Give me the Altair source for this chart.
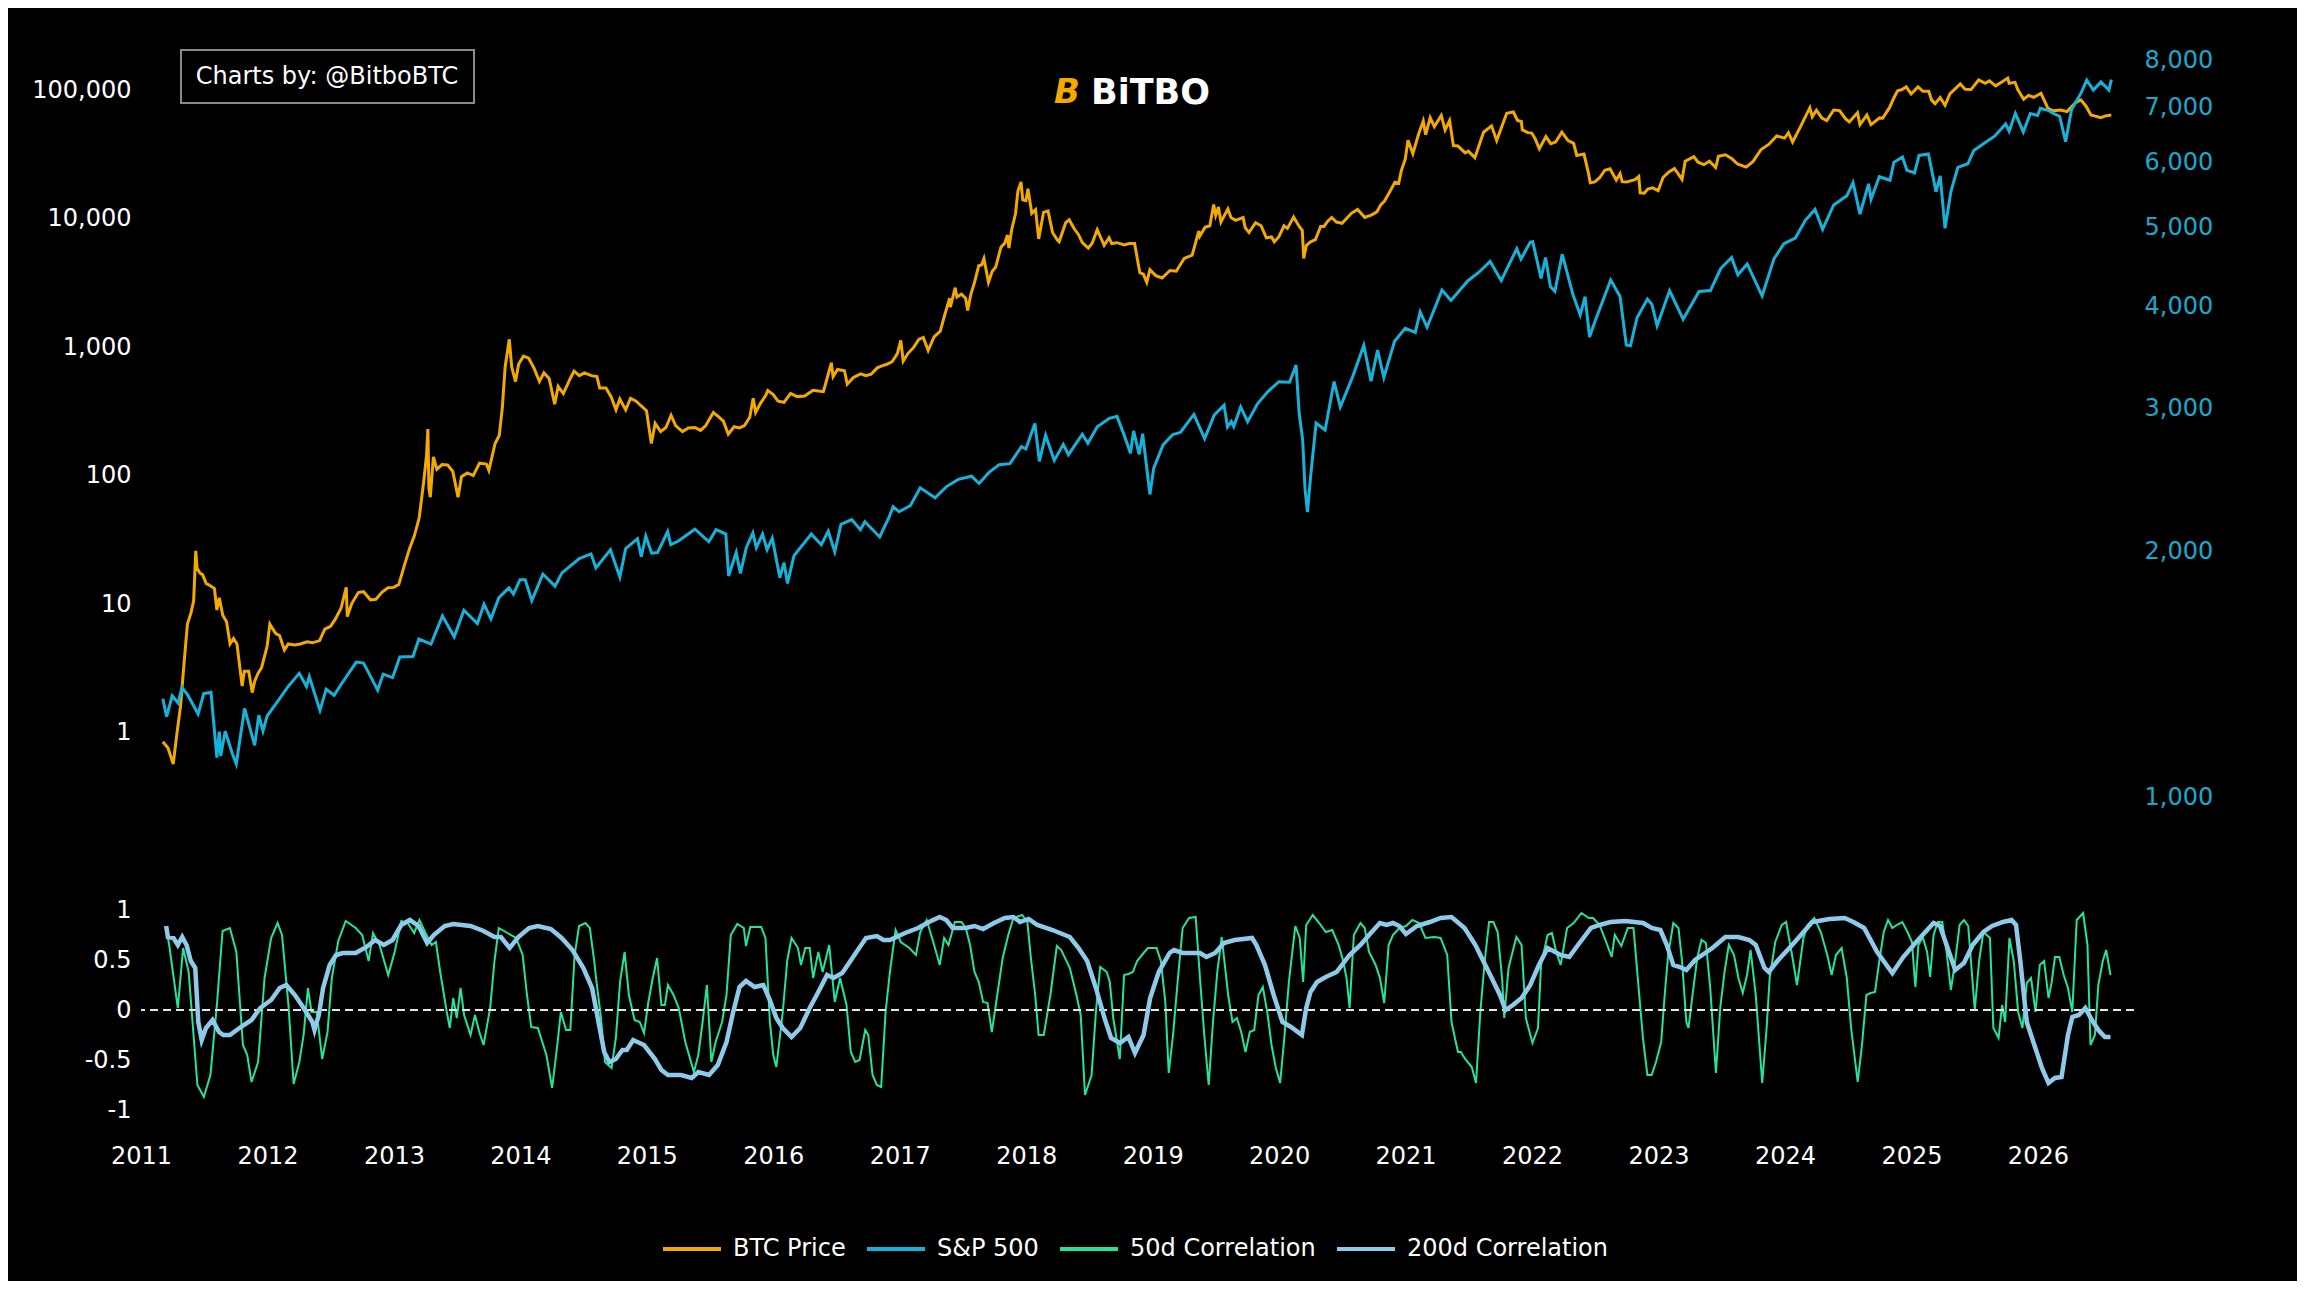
import altair as alt
import pandas as pd

FONT = "DejaVu Sans"
SERIES = ["BTC Price", "S&P 500", "50d Correlation", "200d Correlation"]
COLORS = ["#F2A900", "#16B2D9", "#24E39A", "#8ECBEA"]

btc_dates = [
    "2011-03-05","2011-03-20","2011-04-04","2011-04-15","2011-04-25","2011-05-05","2011-05-15","2011-05-25",
    "2011-06-02","2011-06-08","2011-06-12","2011-06-20","2011-06-28","2011-07-08","2011-07-20","2011-08-01",
    "2011-08-08","2011-08-15","2011-08-25","2011-09-05","2011-09-15","2011-09-25","2011-10-05","2011-10-20",
    "2011-10-26","2011-11-08","2011-11-18","2011-11-25","2011-12-05","2011-12-15","2011-12-31",
    "2012-01-08","2012-01-15","2012-01-25","2012-02-05","2012-02-19","2012-03-01","2012-03-20","2012-04-05",
    "2012-04-25","2012-05-10","2012-05-31","2012-06-15","2012-07-01","2012-07-15","2012-08-01","2012-08-16",
    "2012-08-19","2012-09-01","2012-09-20","2012-10-05","2012-10-25","2012-11-10","2012-11-28","2012-12-15","2012-12-31",
    "2013-01-15","2013-02-01","2013-02-15","2013-03-01","2013-03-15","2013-03-28","2013-04-05","2013-04-09",
    "2013-04-12","2013-04-16","2013-04-25","2013-05-05","2013-05-20","2013-06-05","2013-06-20","2013-07-05",
    "2013-07-15","2013-08-01","2013-08-18","2013-09-05","2013-09-25","2013-10-02","2013-10-20","2013-11-01",
    "2013-11-10","2013-11-18","2013-11-30","2013-12-07","2013-12-18","2013-12-27",
    "2014-01-10","2014-01-25","2014-02-10","2014-02-25","2014-03-10","2014-03-25","2014-04-10","2014-04-20",
    "2014-05-05","2014-05-25","2014-06-05","2014-06-20","2014-07-05","2014-07-25","2014-08-10","2014-08-18",
    "2014-09-05","2014-09-20","2014-10-04","2014-10-15","2014-11-01","2014-11-15","2014-12-01","2014-12-15","2014-12-31",
    "2015-01-14","2015-01-25","2015-02-10","2015-02-25","2015-03-12","2015-03-25","2015-04-14","2015-05-01",
    "2015-05-20","2015-06-05","2015-06-20","2015-07-12","2015-07-25","2015-08-10","2015-08-24","2015-09-10",
    "2015-09-25","2015-10-10","2015-10-25","2015-11-04","2015-11-11","2015-11-25","2015-12-10","2015-12-16","2015-12-31",
    "2016-01-15","2016-02-01","2016-02-20","2016-03-10","2016-04-01","2016-04-25","2016-05-10","2016-05-25",
    "2016-06-05","2016-06-17","2016-06-22","2016-07-05","2016-07-25","2016-08-02","2016-08-20","2016-09-10",
    "2016-09-25","2016-10-10","2016-10-28","2016-11-10","2016-11-25","2016-12-10","2016-12-25",
    "2017-01-04","2017-01-11","2017-01-25","2017-02-10","2017-02-25","2017-03-10","2017-03-24","2017-04-10",
    "2017-04-28","2017-05-10","2017-05-25","2017-05-27","2017-06-10","2017-06-15","2017-06-28","2017-07-10",
    "2017-07-16","2017-07-25","2017-08-05","2017-08-17","2017-08-25","2017-09-01","2017-09-14","2017-09-25",
    "2017-10-05","2017-10-20","2017-10-31","2017-11-08","2017-11-12","2017-11-20","2017-12-01","2017-12-08",
    "2017-12-17","2017-12-22","2017-12-31",
    "2018-01-06","2018-01-17","2018-01-28","2018-02-06","2018-02-20","2018-03-05","2018-03-18","2018-04-01",
    "2018-04-06","2018-04-25","2018-05-05","2018-05-20","2018-06-01","2018-06-12","2018-06-29","2018-07-10",
    "2018-07-25","2018-08-14","2018-08-28","2018-09-05","2018-09-20","2018-10-11","2018-10-25","2018-11-10",
    "2018-11-20","2018-11-25","2018-12-05","2018-12-15","2018-12-24",
    "2019-01-10","2019-01-28","2019-02-20","2019-03-10","2019-04-02","2019-04-25","2019-05-14","2019-05-17",
    "2019-06-01","2019-06-15","2019-06-26","2019-07-02","2019-07-10","2019-07-17","2019-08-06","2019-08-15",
    "2019-08-28","2019-09-19","2019-09-25","2019-10-06","2019-10-25","2019-11-10","2019-11-25","2019-12-10",
    "2019-12-18","2019-12-31",
    "2020-01-15","2020-01-25","2020-02-12","2020-02-28","2020-03-08","2020-03-12","2020-03-20","2020-04-01",
    "2020-04-15","2020-04-30","2020-05-10","2020-05-20","2020-06-01","2020-06-15","2020-07-01","2020-07-28",
    "2020-08-15","2020-09-05","2020-09-25","2020-10-10","2020-10-21","2020-11-01","2020-11-15","2020-12-01",
    "2020-12-12","2020-12-20","2020-12-31",
    "2021-01-08","2021-01-22","2021-02-08","2021-02-21","2021-02-28","2021-03-13","2021-03-25","2021-04-14",
    "2021-04-25","2021-05-08","2021-05-19","2021-06-01","2021-06-22","2021-07-01","2021-07-20","2021-08-14",
    "2021-09-06","2021-09-21","2021-10-05","2021-10-20","2021-11-08","2021-11-20","2021-12-01","2021-12-04",
    "2021-12-20","2021-12-31",
    "2022-01-10","2022-01-22","2022-02-10","2022-02-24","2022-03-10","2022-03-28","2022-04-15","2022-05-01",
    "2022-05-10","2022-05-31","2022-06-13","2022-06-18","2022-07-01","2022-07-15","2022-07-30","2022-08-14",
    "2022-09-01","2022-09-12","2022-09-18","2022-10-01","2022-10-25","2022-11-05","2022-11-09","2022-11-21",
    "2022-12-01","2022-12-15","2022-12-31",
    "2023-01-14","2023-01-31","2023-02-16","2023-03-10","2023-03-19","2023-04-13","2023-04-25","2023-05-12",
    "2023-05-28","2023-06-15","2023-06-23","2023-07-13","2023-08-01","2023-08-17","2023-09-11","2023-10-01",
    "2023-10-24","2023-11-15","2023-12-08","2023-12-31",
    "2024-01-11","2024-01-23","2024-02-15","2024-03-13","2024-03-20","2024-04-01","2024-04-17","2024-05-01",
    "2024-05-21","2024-06-07","2024-06-24","2024-07-05","2024-07-29","2024-08-05","2024-08-25","2024-09-06",
    "2024-10-01","2024-10-10","2024-10-29","2024-11-12","2024-11-22","2024-12-05","2024-12-17","2024-12-31",
    "2025-01-20","2025-02-03","2025-02-20","2025-02-28","2025-03-10","2025-03-25","2025-04-08","2025-04-22",
    "2025-05-22","2025-06-05","2025-06-22","2025-07-14","2025-08-02","2025-08-14","2025-09-01","2025-09-20",
    "2025-10-06","2025-10-10","2025-10-27","2025-11-04","2025-11-21","2025-12-05","2025-12-20",
    "2026-01-10","2026-01-30","2026-02-15","2026-03-08","2026-03-26","2026-04-20","2026-05-05","2026-05-20",
    "2026-06-03","2026-07-02","2026-07-15","2026-08-01",
]
btc_prices = [
    0.85,0.76,0.57,1.0,1.6,3.4,7.0,8.5,
    10.6,26.0,19,17.5,16.9,14.5,13.9,13.2,
    9.0,11.2,8.2,7.3,4.9,5.4,4.9,2.3,
    3.0,3.0,2.05,2.5,2.9,3.2,4.7,
    7.0,6.5,5.9,5.7,4.4,4.9,4.8,4.9,
    5.1,5.0,5.2,6.4,6.7,7.6,9.3,13.5,
    8.0,10.1,12.3,12.5,10.8,10.9,12.4,13.4,13.5,
    14.2,20.4,27,34,47,90,142,230,
    80,68,140,112,122,121,108,68,
    98,105,100,125,123,110,178,205,
    340,700,1150,700,540,740,
    850,820,680,540,630,570,360,495,
    435,570,650,600,630,600,590,480,
    480,410,325,395,325,400,380,350,320,
    178,255,220,237,295,245,220,235,
    237,225,245,310,290,265,210,240,
    235,245,285,400,310,365,420,460,430,
    380,372,437,412,417,462,455,450,
    575,755,590,670,655,515,580,620,
    600,615,690,715,735,770,890,
    1130,780,895,995,1150,1190,940,1200,
    1330,1750,2400,2050,2900,2450,2580,2400,
    1930,2560,3200,4300,4350,4900,3200,3900,
    4200,6000,6450,7450,5900,8200,10900,16400,
    19300,14000,13800,
    17100,11000,11750,6950,11200,11500,7800,6800,
    6600,9300,9800,8300,7500,6500,5900,6400,
    8200,6200,7100,6400,6500,6250,6400,6400,
    4500,3800,3700,3200,4000,
    3600,3450,3950,3900,4900,5200,8000,7300,
    8550,8800,12900,10600,12300,9400,11900,10200,
    9700,10200,8500,7800,9300,8800,7100,7200,
    6600,7200,
    8800,8400,10300,8700,8100,4900,6200,6600,
    6850,8700,8700,9500,10200,9400,9200,11000,
    11800,10200,10700,11300,12800,13700,16000,19200,
    18800,23800,29000,
    40800,32000,46000,57500,45000,61000,52000,63500,
    49000,58000,37000,36700,32500,33500,29800,47000,
    52700,40500,51500,66000,67500,58000,57000,49000,
    46700,46300,
    41800,35000,43500,38300,39400,47100,40500,38500,
    31000,31800,22500,19000,19300,20800,23800,24400,
    20000,22400,19400,19300,20100,21300,15900,15800,
    17000,17350,16500,
    20900,23100,24500,20200,28000,30400,27500,26300,
    28000,25000,30600,31400,29200,26600,25200,27900,
    34500,37800,44000,42300,
    46600,39500,52000,73000,62000,69700,60500,58000,
    70000,69300,60000,56600,66800,54000,64000,53900,
    60800,60500,72700,88000,99000,101000,106100,93400,
    106000,98000,98000,84000,78500,87500,76300,93500,
    111600,101500,101000,120000,113000,118000,108000,116000,
    124000,113000,115000,101000,85000,91000,88000,
    94500,72000,69000,70000,68000,80000,84000,75000,
    64000,61000,63000,64000,
]

sp_dates = [
    "2011-03-05","2011-03-16","2011-04-01","2011-04-18","2011-04-29","2011-05-15","2011-06-15","2011-07-01",
    "2011-07-22","2011-08-08","2011-08-15","2011-08-19","2011-09-01","2011-09-22","2011-10-03","2011-10-27",
    "2011-11-25","2011-12-07","2011-12-19","2011-12-31",
    "2012-01-31","2012-02-29","2012-04-02","2012-04-23","2012-05-01","2012-06-01","2012-06-19","2012-07-12",
    "2012-08-01","2012-09-14","2012-10-05","2012-10-23","2012-11-15","2012-12-01","2012-12-28",
    "2013-01-18","2013-02-25","2013-03-14","2013-04-18","2013-05-21","2013-06-24","2013-07-22","2013-08-30",
    "2013-09-18","2013-10-08","2013-10-31","2013-11-29","2013-12-12","2013-12-31",
    "2014-01-15","2014-02-03","2014-03-07","2014-04-11","2014-05-01","2014-06-20","2014-07-24","2014-08-07",
    "2014-09-18","2014-10-15","2014-11-01","2014-12-05","2014-12-16","2014-12-29",
    "2015-01-15","2015-02-01","2015-03-02","2015-03-11","2015-04-01","2015-05-20","2015-06-29","2015-07-20",
    "2015-08-17","2015-08-25","2015-09-16","2015-09-28","2015-10-15","2015-11-03","2015-11-13","2015-12-01",
    "2015-12-14","2015-12-29",
    "2016-01-20","2016-02-01","2016-02-11","2016-03-01","2016-04-20","2016-05-19","2016-06-08","2016-06-27",
    "2016-07-15","2016-08-15","2016-09-09","2016-09-22","2016-11-04","2016-11-30","2016-12-13","2016-12-30",
    "2017-02-01","2017-03-01","2017-04-13","2017-05-15","2017-06-19","2017-07-27","2017-08-18","2017-09-15",
    "2017-10-15","2017-11-15","2017-12-18","2017-12-31",
    "2018-01-26","2018-02-08","2018-02-26","2018-03-23","2018-04-18","2018-05-03","2018-06-12","2018-06-28",
    "2018-07-25","2018-08-29","2018-09-20","2018-10-10","2018-10-29","2018-11-07","2018-11-23","2018-12-03",
    "2018-12-24",
    "2019-01-04","2019-01-31","2019-02-28","2019-03-22","2019-04-30","2019-05-31","2019-06-28","2019-07-26",
    "2019-08-05","2019-08-16","2019-08-23","2019-09-12","2019-10-02","2019-10-31","2019-11-29","2019-12-31",
    "2020-01-31","2020-02-19","2020-02-28","2020-03-09","2020-03-16","2020-03-23","2020-04-01","2020-04-17",
    "2020-05-13","2020-06-08","2020-06-26","2020-07-31","2020-09-02","2020-09-23","2020-10-12","2020-10-30",
    "2020-11-30","2020-12-31",
    "2021-01-29","2021-02-12","2021-03-04","2021-04-16","2021-05-12","2021-06-30","2021-07-30","2021-09-02",
    "2021-10-04","2021-11-18","2021-11-30","2021-12-27",
    "2022-01-03","2022-01-27","2022-02-09","2022-02-23","2022-03-08","2022-03-29","2022-04-29","2022-05-20",
    "2022-06-03","2022-06-16","2022-07-01","2022-08-16","2022-09-12","2022-09-30","2022-10-12","2022-10-31",
    "2022-11-30","2022-12-13","2022-12-28",
    "2023-02-02","2023-03-13","2023-04-28","2023-05-31","2023-06-30","2023-07-31","2023-08-18","2023-09-14",
    "2023-10-27","2023-11-30","2023-12-29",
    "2024-01-31","2024-02-29","2024-03-28","2024-04-19","2024-05-21","2024-06-28","2024-07-16","2024-08-05",
    "2024-08-30","2024-09-06","2024-09-30","2024-10-31","2024-11-11","2024-12-06","2024-12-19",
    "2025-01-10","2025-01-23","2025-02-19","2025-03-13","2025-03-25","2025-04-08","2025-04-25","2025-05-15",
    "2025-06-13","2025-06-30","2025-07-31","2025-08-29","2025-09-30","2025-10-10","2025-10-28","2025-11-20",
    "2025-12-10","2025-12-31",
    "2026-01-08","2026-01-30","2026-02-15","2026-03-05","2026-03-22","2026-04-08","2026-05-05","2026-05-22",
    "2026-06-10","2026-07-02","2026-07-25","2026-08-01",
]
sp_values = [
    1321,1256,1332,1305,1363,1337,1265,1340,
    1345,1119,1204,1124,1205,1130,1099,1285,
    1158,1261,1206,1258,
    1312,1366,1419,1367,1406,1278,1357,1334,
    1375,1465,1461,1413,1353,1416,1402,
    1486,1488,1563,1541,1669,1573,1696,1633,
    1725,1655,1757,1806,1775,1848,
    1848,1742,1878,1815,1884,1962,1988,1910,
    2011,1862,2018,2075,1972,2090,
    1992,1995,2117,2040,2060,2131,2057,2128,
    2102,1868,1996,1881,2023,2109,2023,2102,
    2012,2078,
    1859,1940,1829,1978,2102,2040,2119,2000,
    2161,2190,2128,2177,2085,2200,2271,2239,
    2279,2395,2329,2402,2453,2475,2425,2500,
    2557,2564,2690,2673,
    2872,2581,2779,2588,2708,2630,2786,2716,
    2846,2914,2930,2785,2641,2813,2633,2790,
    2351,
    2532,2704,2784,2800,2946,2752,2942,3025,
    2844,2889,2847,3009,2887,3038,3141,3231,
    3226,3386,2954,2746,2386,2237,2470,2875,
    2820,3232,3009,3271,3580,3237,3534,3270,
    3622,3756,
    3714,3934,3768,4185,4063,4297,4395,4537,
    4300,4704,4567,4791,
    4796,4326,4587,4226,4170,4631,4132,3901,
    4108,3666,3825,4305,4110,3585,3577,3871,
    4080,4019,3783,
    4179,3855,4169,4180,4450,4589,4370,4505,
    4117,4568,4770,
    4846,5096,5254,4967,5321,5460,5667,5186,
    5648,5408,5762,5705,6001,6090,5867,
    5827,6119,6144,5522,5777,4982,5525,5916,
    5977,6205,6339,6460,6688,6552,6890,6538,
    6886,6850,
    6990,6950,6890,6830,6360,6960,7290,7570,
    7360,7530,7360,7580,
]

# correlations: decimal year and value
corr50_t = [
    2011.199,2011.223,2011.291,2011.333,2011.377,2011.446,2011.497,2011.549,2011.600,2011.645,
    2011.703,2011.754,2011.806,2011.840,2011.874,2011.926,2011.977,2012.029,2012.080,2012.115,
    2012.166,2012.207,2012.252,2012.286,2012.320,2012.348,2012.389,2012.433,2012.475,2012.509,
    2012.560,2012.619,2012.698,2012.749,2012.800,2012.835,2012.886,2012.955,2013.006,2013.058,
    2013.109,2013.160,2013.202,2013.246,2013.298,2013.332,2013.366,2013.418,2013.442,2013.469,
    2013.497,2013.527,2013.555,2013.606,2013.641,2013.675,2013.709,2013.761,2013.795,2013.829,
    2013.898,2013.966,2014.018,2014.052,2014.086,2014.138,2014.206,2014.251,2014.292,2014.320,
    2014.361,2014.395,2014.429,2014.464,2014.515,2014.549,2014.584,2014.601,2014.635,2014.669,
    2014.721,2014.755,2014.789,2014.824,2014.858,2014.903,2014.944,2014.978,2015.012,2015.047,
    2015.081,2015.115,2015.143,2015.167,2015.211,2015.252,2015.304,2015.338,2015.372,2015.407,
    2015.441,2015.475,2015.510,2015.544,2015.595,2015.630,2015.664,2015.715,2015.767,2015.784,
    2015.818,2015.904,2015.938,2015.973,2016.000,2016.024,2016.075,2016.110,2016.144,2016.195,
    2016.219,2016.253,2016.288,2016.315,2016.356,2016.390,2016.442,2016.486,2016.528,2016.579,
    2016.613,2016.648,2016.682,2016.727,2016.751,2016.785,2016.819,2016.853,2016.888,2016.922,
    2016.967,2017.008,2017.076,2017.128,2017.162,2017.213,2017.265,2017.316,2017.351,2017.385,
    2017.436,2017.488,2017.522,2017.556,2017.591,2017.625,2017.659,2017.694,2017.728,2017.779,
    2017.814,2017.858,2017.899,2017.968,2018.009,2018.037,2018.071,2018.098,2018.139,2018.191,
    2018.242,2018.277,2018.345,2018.397,2018.431,2018.465,2018.517,2018.551,2018.585,2018.637,
    2018.661,2018.688,2018.740,2018.774,2018.808,2018.843,2018.877,2018.928,2018.962,2019.031,
    2019.065,2019.100,2019.127,2019.161,2019.202,2019.237,2019.288,2019.340,2019.374,2019.408,
    2019.443,2019.477,2019.511,2019.546,2019.597,2019.631,2019.666,2019.700,2019.734,2019.768,
    2019.803,2019.837,2019.871,2019.906,2019.940,2019.974,2020.008,2020.043,2020.077,2020.128,
    2020.163,2020.190,2020.214,2020.266,2020.317,2020.369,2020.420,2020.471,2020.506,2020.533,
    2020.557,2020.591,2020.643,2020.677,2020.711,2020.763,2020.797,2020.831,2020.866,2020.900,
    2020.951,2021.003,2021.054,2021.106,2021.157,2021.226,2021.277,2021.329,2021.363,2021.414,
    2021.437,2021.471,2021.523,2021.557,2021.591,2021.626,2021.660,2021.694,2021.728,2021.763,
    2021.780,2021.814,2021.876,2021.917,2021.951,2022.003,2022.047,2022.071,2022.123,2022.157,
    2022.191,2022.226,2022.277,2022.329,2022.390,2022.449,2022.483,2022.534,2022.586,2022.630,
    2022.654,2022.706,2022.757,2022.802,2022.836,2022.877,2022.912,2022.946,2022.980,2023.021,
    2023.049,2023.076,2023.117,2023.158,2023.186,2023.220,2023.237,2023.272,2023.306,2023.340,
    2023.375,2023.409,2023.454,2023.488,2023.522,2023.556,2023.597,2023.632,2023.666,2023.700,
    2023.728,2023.769,2023.820,2023.855,2023.879,2023.923,2023.975,2024.009,2024.060,2024.095,
    2024.146,2024.180,2024.232,2024.283,2024.335,2024.369,2024.403,2024.448,2024.489,2024.523,
    2024.575,2024.609,2024.644,2024.678,2024.712,2024.746,2024.781,2024.815,2024.849,2024.884,
    2024.928,2024.969,2025.004,2025.031,2025.055,2025.089,2025.124,2025.148,2025.175,2025.209,
    2025.244,2025.278,2025.312,2025.346,2025.381,2025.415,2025.449,2025.501,2025.535,2025.569,
    2025.621,2025.648,2025.689,2025.717,2025.741,2025.775,2025.809,2025.844,2025.878,2025.912,
    2025.946,2025.981,2026.015,2026.049,2026.084,2026.108,2026.135,2026.169,2026.204,2026.238,
    2026.272,2026.307,2026.358,2026.392,2026.416,2026.451,2026.478,2026.513,2026.540,2026.574,
]
corr50_v = [
    0.82,0.65,0.02,0.62,0.38,-0.75,-0.87,-0.65,0.05,0.79,
    0.82,0.58,-0.35,-0.45,-0.72,-0.52,0.32,0.72,0.87,0.75,
    0.05,-0.74,-0.52,-0.25,0.22,-0.02,-0.02,-0.49,-0.22,0.32,
    0.69,0.89,0.82,0.75,0.49,0.77,0.65,0.35,0.58,0.89,
    0.87,0.77,0.90,0.78,0.65,0.68,0.38,-0.02,-0.18,0.12,
    -0.08,0.22,-0.05,-0.25,-0.05,-0.22,-0.35,0.02,0.49,0.82,
    0.77,0.72,0.55,0.15,-0.17,-0.18,-0.45,-0.78,-0.35,-0.02,
    -0.20,-0.20,0.55,0.84,0.87,0.82,0.49,0.29,-0.05,-0.52,
    -0.58,-0.28,0.29,0.58,0.15,-0.10,-0.12,-0.23,0.08,0.32,
    0.52,0.05,0.05,0.25,0.15,0.02,-0.32,-0.47,-0.62,-0.45,
    -0.12,0.25,-0.52,-0.32,-0.12,0.15,0.75,0.86,0.82,0.64,
    0.83,0.83,0.72,-0.12,-0.45,-0.57,-0.02,0.49,0.72,0.62,
    0.45,0.62,0.62,0.32,0.58,0.38,0.65,0.08,0.32,0.05,
    -0.42,-0.52,-0.50,-0.20,-0.25,-0.65,-0.75,-0.77,-0.02,0.38,
    0.80,0.68,0.62,0.55,0.78,0.90,0.68,0.45,0.72,0.65,
    0.88,0.88,0.82,0.65,0.38,0.28,0.08,0.07,-0.22,0.22,
    0.52,0.75,0.92,0.95,0.88,0.52,0.15,-0.25,-0.25,0.15,
    0.64,0.60,0.42,0.15,-0.05,-0.85,-0.65,-0.02,0.43,0.38,
    0.28,-0.08,-0.49,0.35,0.36,0.38,0.49,0.57,0.62,0.62,
    0.49,0.08,-0.63,-0.25,0.35,0.82,0.92,0.93,0.32,-0.25,
    -0.75,-0.12,0.38,0.73,0.15,-0.12,-0.08,-0.22,-0.42,-0.22,
    -0.20,0.15,0.23,-0.02,-0.35,-0.58,-0.73,-0.25,0.28,0.84,
    0.72,0.28,0.85,0.95,0.87,0.78,0.80,0.65,0.49,0.32,
    0.02,0.75,0.87,0.82,0.58,0.45,0.32,0.07,0.65,0.75,
    0.82,0.84,0.90,0.87,0.72,0.73,0.72,0.55,-0.12,-0.42,
    -0.42,-0.49,-0.57,-0.73,-0.02,0.49,0.88,0.88,0.78,0.32,
    -0.08,0.42,0.73,0.65,-0.08,-0.33,-0.18,0.45,0.75,0.77,
    0.58,0.45,0.82,0.87,0.97,0.92,0.92,0.85,0.68,0.53,
    0.75,0.64,0.82,0.82,0.32,-0.28,-0.65,-0.65,-0.52,-0.32,
    0.15,0.55,0.87,0.82,0.49,-0.12,-0.18,0.18,0.52,0.70,
    0.67,0.22,-0.63,0.02,0.38,0.65,0.55,0.32,0.17,0.35,
    0.60,0.15,-0.73,-0.18,0.32,0.68,0.85,0.88,0.52,0.25,
    0.72,0.85,0.92,0.78,0.55,0.35,0.55,0.62,0.32,-0.18,
    -0.72,-0.35,0.15,0.17,0.18,0.49,0.78,0.90,0.82,0.85,
    0.88,0.78,0.68,0.23,0.65,0.73,0.58,0.33,0.75,0.88,
    0.88,0.58,0.20,0.49,0.85,0.90,0.84,0.00,0.49,0.78,
    0.72,-0.18,-0.28,0.05,-0.12,0.72,0.49,-0.02,-0.18,0.27,
    0.32,-0.02,0.45,0.49,0.12,0.27,0.53,0.53,0.35,0.22,
    -0.02,0.90,0.97,0.65,-0.35,-0.25,0.25,0.49,0.60,0.35,
]

corr200_t = [
    2011.199,2011.213,2011.257,2011.291,2011.326,2011.360,2011.394,2011.429,2011.453,2011.480,
    2011.514,2011.566,2011.617,2011.652,2011.703,2011.789,2011.874,2011.943,2012.029,2012.097,
    2012.149,2012.217,2012.286,2012.355,2012.372,2012.406,2012.440,2012.492,2012.543,2012.595,
    2012.698,2012.783,2012.852,2012.920,2012.989,2013.058,2013.126,2013.195,2013.263,2013.315,
    2013.401,2013.469,2013.606,2013.709,2013.795,2013.846,2013.915,2013.984,2014.069,2014.138,
    2014.241,2014.326,2014.412,2014.498,2014.567,2014.618,2014.663,2014.704,2014.755,2014.807,
    2014.841,2014.892,2014.978,2015.064,2015.115,2015.167,2015.270,2015.355,2015.407,2015.492,
    2015.561,2015.630,2015.681,2015.733,2015.784,2015.853,2015.921,2015.973,2016.024,2016.075,
    2016.144,2016.213,2016.288,2016.356,2016.425,2016.476,2016.545,2016.631,2016.733,2016.819,
    2016.871,2016.922,2017.042,2017.145,2017.231,2017.316,2017.368,2017.419,2017.522,2017.591,
    2017.659,2017.745,2017.831,2017.899,2017.951,2018.019,2018.088,2018.208,2018.345,2018.414,
    2018.482,2018.551,2018.619,2018.671,2018.740,2018.808,2018.860,2018.928,2018.980,2019.048,
    2019.134,2019.168,2019.237,2019.374,2019.425,2019.494,2019.563,2019.648,2019.786,2019.820,
    2019.888,2019.957,2020.026,2020.094,2020.180,2020.214,2020.248,2020.300,2020.369,2020.454,
    2020.557,2020.643,2020.711,2020.797,2020.849,2020.900,2020.951,2021.003,2021.089,2021.192,
    2021.277,2021.363,2021.466,2021.552,2021.591,2021.677,2021.746,2021.790,2021.849,2021.917,
    2021.986,2022.054,2022.123,2022.226,2022.294,2022.363,2022.466,2022.534,2022.620,2022.740,
    2022.877,2022.946,2023.015,2023.066,2023.117,2023.169,2023.220,2023.289,2023.426,2023.529,
    2023.632,2023.718,2023.769,2023.838,2023.872,2023.940,2024.078,2024.215,2024.352,2024.472,
    2024.541,2024.626,2024.729,2024.849,2024.935,2025.038,2025.175,2025.226,2025.278,2025.346,
    2025.415,2025.484,2025.569,2025.638,2025.724,2025.792,2025.827,2025.861,2025.912,2025.964,
    2026.032,2026.084,2026.135,2026.187,2026.238,2026.272,2026.324,2026.375,2026.427,2026.478,
    2026.530,2026.574,
]
corr200_v = [
    0.84,0.73,0.72,0.65,0.73,0.65,0.49,0.42,-0.12,-0.30,
    -0.18,-0.10,-0.22,-0.25,-0.25,-0.17,-0.10,0.02,0.10,0.22,
    0.25,0.15,0.02,-0.12,-0.20,-0.05,0.22,0.45,0.55,0.57,
    0.57,0.63,0.70,0.65,0.70,0.85,0.90,0.84,0.67,0.75,
    0.84,0.86,0.84,0.79,0.73,0.73,0.62,0.73,0.82,0.84,
    0.81,0.72,0.60,0.42,0.22,-0.12,-0.42,-0.52,-0.49,-0.40,
    -0.40,-0.30,-0.35,-0.49,-0.60,-0.65,-0.65,-0.68,-0.62,-0.65,
    -0.55,-0.32,-0.03,0.23,0.29,0.23,0.25,0.10,-0.08,-0.18,
    -0.27,-0.18,0.02,0.18,0.35,0.32,0.37,0.53,0.72,0.74,
    0.70,0.70,0.77,0.82,0.88,0.93,0.90,0.82,0.82,0.84,
    0.81,0.87,0.92,0.93,0.88,0.91,0.85,0.80,0.73,0.62,
    0.49,0.22,-0.08,-0.28,-0.33,-0.27,-0.43,-0.25,0.12,0.38,
    0.57,0.60,0.57,0.57,0.53,0.57,0.67,0.70,0.72,0.65,
    0.45,0.15,-0.12,-0.17,-0.25,0.02,0.18,0.28,0.33,0.38,
    0.55,0.65,0.75,0.87,0.85,0.87,0.84,0.76,0.84,0.88,
    0.92,0.93,0.82,0.65,0.55,0.33,0.15,0.00,0.05,0.12,
    0.25,0.45,0.62,0.55,0.53,0.65,0.82,0.85,0.88,0.89,
    0.87,0.82,0.80,0.65,0.45,0.43,0.40,0.50,0.62,0.73,
    0.73,0.70,0.65,0.42,0.38,0.49,0.68,0.88,0.91,0.92,
    0.88,0.82,0.58,0.37,0.53,0.68,0.87,0.84,0.65,0.40,
    0.47,0.65,0.78,0.84,0.88,0.90,0.85,0.49,-0.12,-0.32,
    -0.58,-0.73,-0.68,-0.67,-0.25,-0.07,-0.05,0.02,-0.10,-0.20,
    -0.27,-0.27,
]

year_ticks = list(range(2011, 2027))
btc_ticks = [1, 10, 100, 1000, 10000, 100000]
sp_ticks = [1000, 2000, 3000, 4000, 5000, 6000, 7000, 8000]
corr_ticks = [-1, -0.5, 0, 0.5, 1]


def dec_year(s):
    t = pd.Timestamp(s)
    y0 = pd.Timestamp(year=t.year, month=1, day=1)
    y1 = pd.Timestamp(year=t.year + 1, month=1, day=1)
    return t.year + (t - y0) / (y1 - y0)


btc_df = pd.DataFrame({"t": [dec_year(d) for d in btc_dates], "v": btc_prices, "series": SERIES[0]})
sp_df = pd.DataFrame({"t": [dec_year(d) for d in sp_dates], "v": sp_values, "series": SERIES[1]})
c50_df = pd.DataFrame({"t": corr50_t, "v": corr50_v, "series": SERIES[2]})
c200_df = pd.DataFrame({"t": corr200_t, "v": corr200_v, "series": SERIES[3]})

W = 1993
TOP_H = 770
BOT_H = 240
XDOM = [2011, 2026.76]
FS = 24

legend = alt.Legend(
    orient="none", legendX=520, legendY=1178, direction="horizontal", title=None,
    symbolType="stroke", symbolSize=3364, symbolStrokeWidth=4,
    labelFontSize=FS, labelColor="white", labelFont=FONT, labelOffset=10,
    columnPadding=13, labelLimit=400,
)
color = alt.Color("series:N", scale=alt.Scale(domain=SERIES, range=COLORS), legend=legend)

x_top = alt.X("t:Q", scale=alt.Scale(domain=XDOM, nice=False, zero=False), axis=None)

axis_common = dict(domain=False, ticks=False, grid=False, title=None, labelFontSize=FS,
                   labelFont=FONT, labelPadding=10)

btc_line = alt.Chart(btc_df).mark_line(strokeWidth=3).encode(
    x=x_top,
    y=alt.Y("v:Q", scale=alt.Scale(type="log", domain=[0.25, 245500], nice=False),
            axis=alt.Axis(orient="left", values=btc_ticks, format=",", labelColor="white", **axis_common)),
    color=color,
)
sp_line = alt.Chart(sp_df).mark_line(strokeWidth=3).encode(
    x=x_top,
    y=alt.Y("v:Q", scale=alt.Scale(type="log", domain=[965, 8475], nice=False),
            axis=alt.Axis(orient="right", values=sp_ticks, format=",", labelColor="#19A9CE", **axis_common)),
    color=color,
)

one = pd.DataFrame({"k": [0]})
credit_box = alt.Chart(one).mark_rect(fill="black", stroke="#8a8a8a", strokeWidth=2).encode(
    x=alt.value(40), x2=alt.value(333), y=alt.value(10), y2=alt.value(63))
credit_text = alt.Chart(pd.DataFrame({"label": ["Charts by: @BitboBTC"]})).mark_text(
    font=FONT, fontSize=24, color="white", align="center", baseline="middle").encode(
    text="label:N", x=alt.value(186), y=alt.value(37))
logo_icon = alt.Chart(pd.DataFrame({"label": ["B"]})).mark_text(
    font=FONT, fontSize=34, fontStyle="italic", fontWeight="bold", color="#F2A900",
    align="center", baseline="middle").encode(text="label:N", x=alt.value(926), y=alt.value(53))
logo_text = alt.Chart(pd.DataFrame({"label": ["BiTBO"]})).mark_text(
    font=FONT, fontSize=35, fontWeight="bold", color="white", align="left", baseline="middle").encode(
    text="label:N", x=alt.value(950), y=alt.value(53))

top = alt.layer(btc_line, sp_line, credit_box, credit_text, logo_icon, logo_text).resolve_scale(
    y="independent").properties(width=W, height=TOP_H)

x_bot = alt.X("t:Q", scale=alt.Scale(domain=XDOM, nice=False, zero=False),
              axis=alt.Axis(values=year_ticks, format="d", labelColor="white", labelFlush=False,
                            domain=False, ticks=False, grid=False, title=None, labelFontSize=FS,
                            labelFont=FONT, labelPadding=14))
y_bot = alt.Y("v:Q", scale=alt.Scale(domain=[-1.2, 1.2], nice=False),
              axis=alt.Axis(values=corr_ticks, labelExpr="datum.value + ''", labelColor="white",
                            **axis_common))

c50_line = alt.Chart(c50_df).mark_line(strokeWidth=2).encode(x=x_bot, y=y_bot, color=color)
zero_rule = alt.Chart(one).mark_rule(color="#e6e6e6", strokeWidth=2, strokeDash=[8, 5]).encode(
    y=alt.datum(0))
c200_line = alt.Chart(c200_df).mark_line(strokeWidth=4.5).encode(x=x_bot, y=y_bot, color=color)

bottom = alt.layer(c50_line, zero_rule, c200_line).properties(width=W, height=BOT_H)

chart = alt.vconcat(top, bottom, spacing=80).properties(
    background="black",
    padding={"left": 23, "top": 32, "right": 84, "bottom": 20},
).configure_view(stroke=None)

chart.save("out.html", embed_options={"renderer": "svg", "actions": False})
